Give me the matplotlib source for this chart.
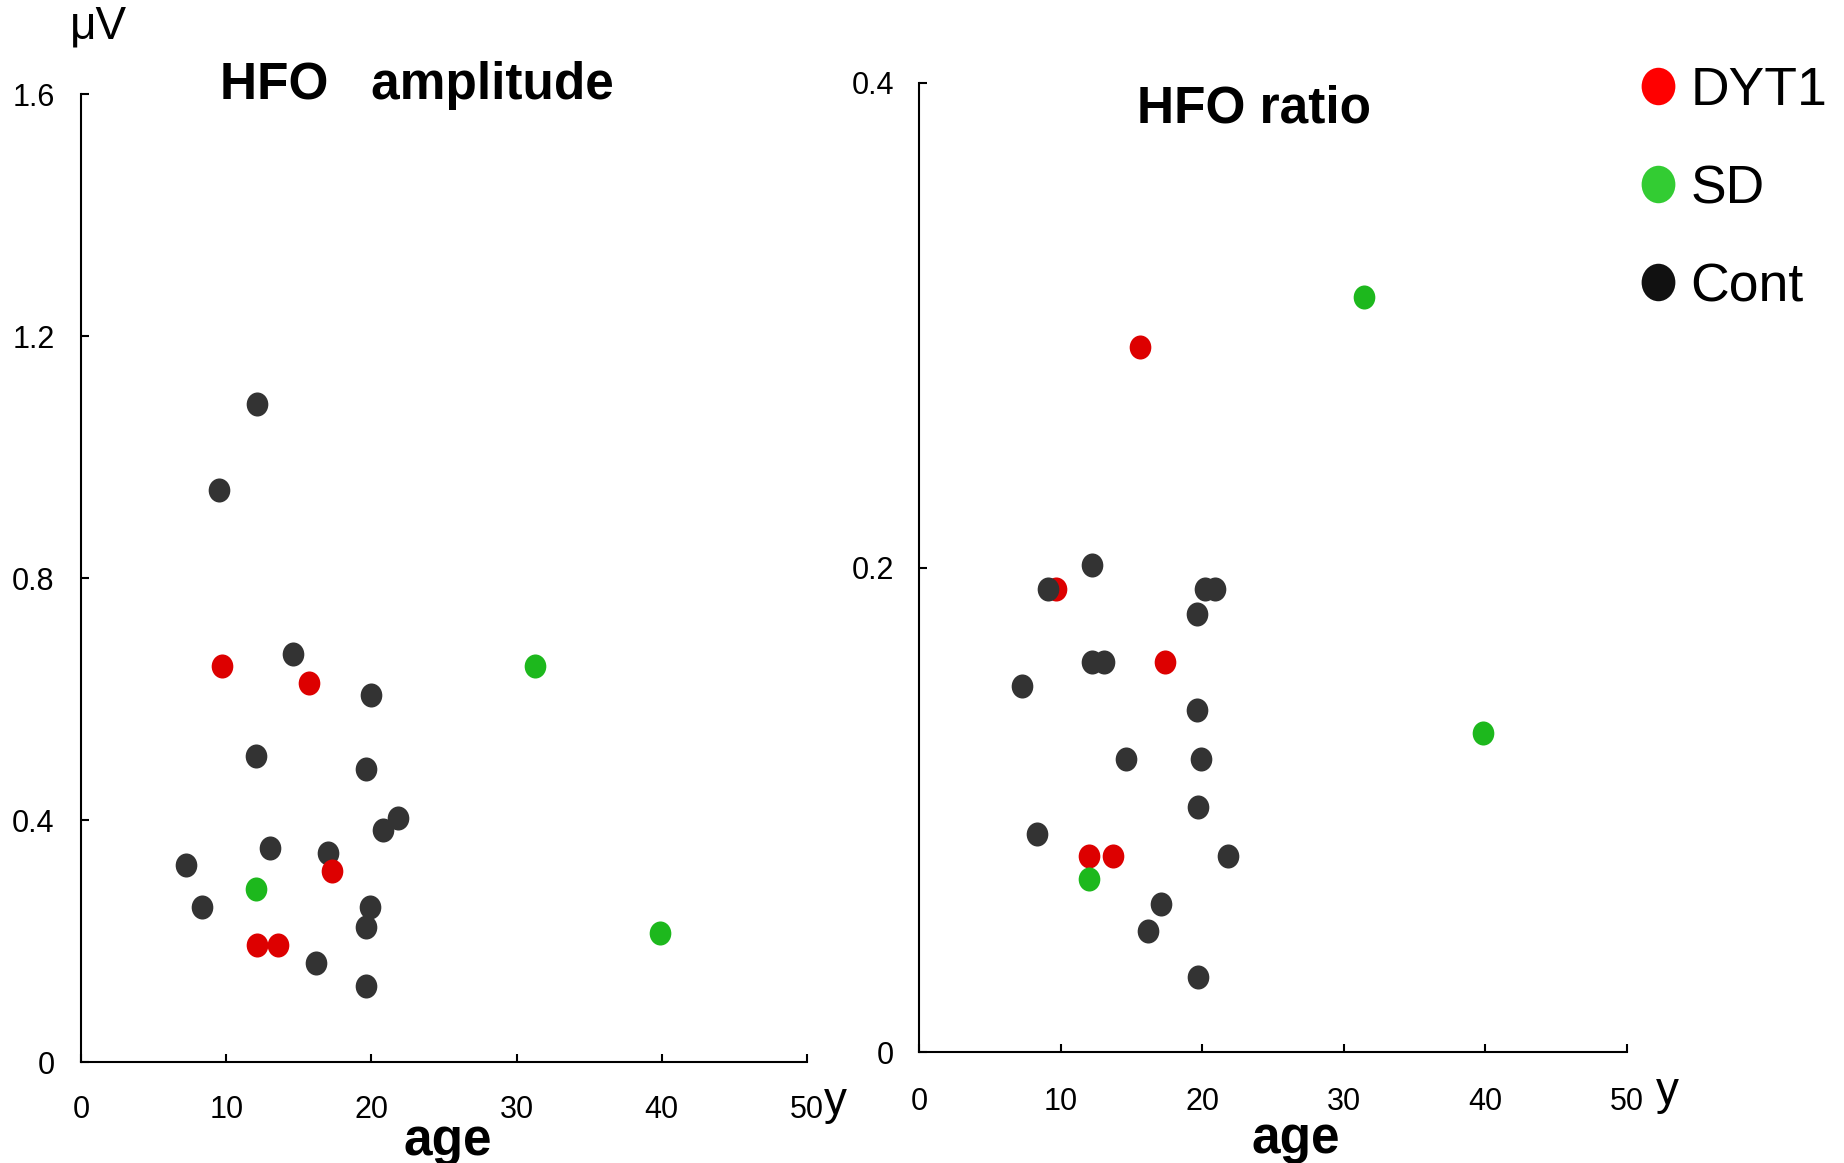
import numpy as np
import matplotlib
matplotlib.use('Agg')
import matplotlib.pyplot as plt
from matplotlib.path import Path
from matplotlib.lines import Line2D

plt.rcParams['font.family'] = ['Liberation Sans', 'DejaVu Sans']

# ---------------- data ----------------
# HFO amplitude (uV) vs age (y)
amp_cont_age = [12.1, 9.5, 14.6, 20.0, 12.05, 19.6, 21.8, 20.8, 13.0, 17.0, 7.2, 8.3, 19.9, 19.6, 16.2, 19.6]
amp_cont_val = [1.087, 0.946, 0.674, 0.606, 0.505, 0.485, 0.403, 0.383, 0.354, 0.345, 0.325, 0.256, 0.256, 0.223, 0.164, 0.125]
amp_dyt_age = [9.7, 15.7, 17.3, 12.1, 13.6]
amp_dyt_val = [0.655, 0.626, 0.316, 0.194, 0.194]
amp_sd_age = [31.3, 12.05, 39.9]
amp_sd_val = [0.655, 0.286, 0.214]

# HFO ratio vs age (y)
ratio_cont_age = [12.2, 9.1, 20.2, 20.9, 19.6, 12.2, 13.1, 7.3, 19.6, 14.6, 19.9, 19.7, 8.3, 21.8, 17.1, 16.2, 19.7]
ratio_cont_val = [0.201, 0.191, 0.191, 0.191, 0.181, 0.161, 0.161, 0.151, 0.141, 0.121, 0.121, 0.101, 0.090, 0.081, 0.061, 0.050, 0.031]
ratio_dyt_age = [9.7, 15.6, 17.4, 12.0, 13.7]
ratio_dyt_val = [0.191, 0.291, 0.161, 0.081, 0.081]
ratio_sd_age = [31.4, 39.8, 12.0]
ratio_sd_val = [0.3115, 0.1315, 0.0713]

x_ticks = [0, 10, 20, 30, 40, 50]
amp_ticks = [0, 0.4, 0.8, 1.2, 1.6]
amp_ticklabels = ['0', '0.4', '0.8', '1.2', '1.6']
ratio_ticks = [0, 0.2, 0.4]
ratio_ticklabels = ['0', '0.2', '0.4']
group_labels = ['DYT1', 'SD', 'Cont']

# ---------------- style ----------------
c_dyt, c_sd, c_cont = '#DD0000', '#1DB81D', '#333333'
leg_colors = ['#FF0000', '#33CC33', '#111111']

circ = Path.unit_circle()
ell = Path(circ.vertices * np.array([0.9, 1.0]), circ.codes)
S = 300

W, H = 1844, 1163
fig = plt.figure(figsize=(W / 100, H / 100), dpi=100)

def px_axes(x0, x1, y0, y1):
    return fig.add_axes([x0 / W, 1 - y0 / H, (x1 - x0) / W, (y0 - y1) / H])

axL = px_axes(81, 807, 1062, 94)
axR = px_axes(919, 1627, 1052, 83)

def style(ax, yticks, ylabels, ylim, ypad, xpad):
    ax.set_xlim(0, 50)
    ax.set_ylim(*ylim)
    ax.set_xticks(x_ticks)
    ax.set_xticklabels([str(t) for t in x_ticks])
    ax.set_yticks(yticks)
    ax.set_yticklabels(ylabels)
    for s in ['top', 'right']:
        ax.spines[s].set_visible(False)
    for s in ['left', 'bottom']:
        ax.spines[s].set_linewidth(1.5)
    ax.tick_params(axis='both', direction='in', length=6, width=1.5, labelsize=22)
    ax.tick_params(axis='y', pad=ypad)
    ax.tick_params(axis='x', pad=xpad)
    for sp in ax.spines.values():
        sp.set_clip_on(False)

style(axL, amp_ticks, amp_ticklabels, (0, 1.6), 19, 24)
style(axR, ratio_ticks, ratio_ticklabels, (0, 0.4), 18, 25)

kw = dict(marker=ell, s=S, linewidths=0, clip_on=False)
axL.scatter(amp_cont_age, amp_cont_val, color=c_cont, zorder=3, **kw)
axL.scatter(amp_dyt_age, amp_dyt_val, color=c_dyt, zorder=4, **kw)
axL.scatter(amp_sd_age, amp_sd_val, color=c_sd, zorder=5, **kw)

axR.scatter(ratio_dyt_age, ratio_dyt_val, color=c_dyt, zorder=3, **kw)
axR.scatter(ratio_cont_age, ratio_cont_val, color=c_cont, zorder=4, **kw)
axR.scatter(ratio_sd_age, ratio_sd_val, color=c_sd, zorder=5, **kw)

# titles
axL.set_title('HFO   amplitude', fontsize=37, fontweight='bold', x=0.4628, y=0.986, va='baseline')
axR.set_title('HFO ratio', fontsize=37, fontweight='bold', x=0.473, y=0.951, va='baseline')

# axis labels
axL.set_xlabel('age', fontsize=37, fontweight='bold')
axL.xaxis.set_label_coords(0.5055, -0.0965)
axL.xaxis.label.set_va('baseline')
axR.set_xlabel('age', fontsize=37, fontweight='bold')
axR.xaxis.set_label_coords(0.532, -0.1045)
axR.xaxis.label.set_va('baseline')

axL.set_ylabel('μV', fontsize=33, rotation=0, ha='center', va='center')
axL.yaxis.set_label_coords(0.0234, 1.07)

axL.text(1.0386, -0.0413, 'y', fontsize=33, transform=axL.transAxes, ha='center', va='center')
axR.text(1.0565, -0.0413, 'y', fontsize=33, transform=axR.transAxes, ha='center', va='center')

# legend
handles = [Line2D([], [], linestyle='none', marker=ell, markersize=27, color=c, markeredgewidth=0)
           for c in leg_colors]
fig.legend(handles, group_labels, loc='center left', bbox_to_anchor=(1631 / W, 1 - 189 / H),
           frameon=False, fontsize=38.5, handlelength=1.0, handletextpad=0.11,
           labelspacing=0.9, borderpad=0, borderaxespad=0)

fig.savefig('out.png', dpi=100)
